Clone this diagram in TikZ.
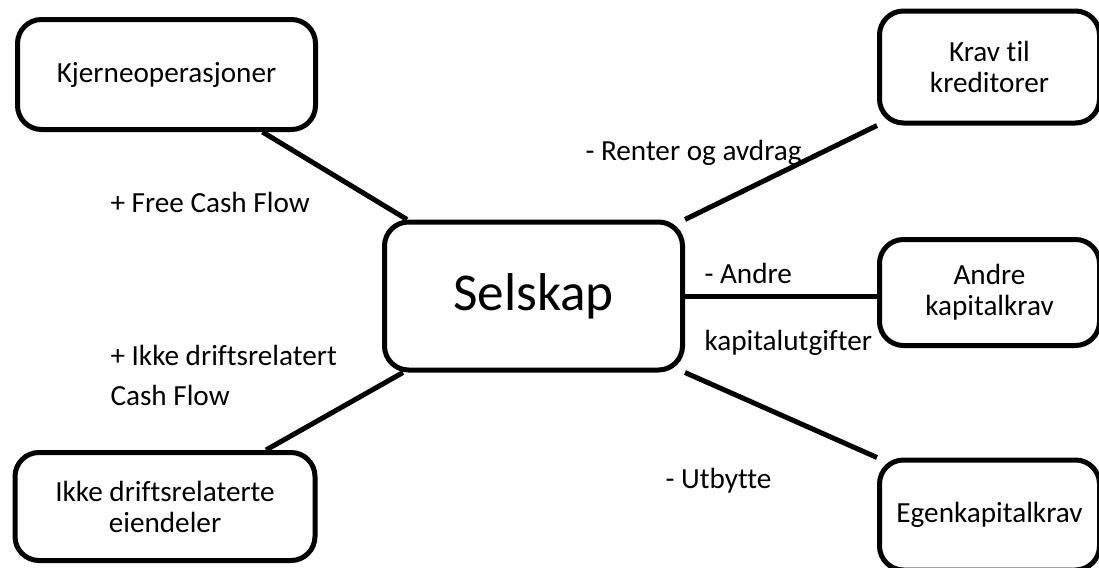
\documentclass[tikz,border=0pt]{standalone}
\usepackage{fontspec}
\setmainfont{Carlito}[Ligatures=NoCommon]
\usepackage{tikz}

\begin{document}
\begin{tikzpicture}[x=0.5pt,y=-0.5pt,line width=2.5pt]
\tikzstyle{block}=[rectangle,draw,rounded corners=12pt,align=center,inner sep=0pt,font=\fontsize{14.6}{15.5}\selectfont]
\tikzstyle{flow}=[anchor=base west,inner sep=0pt,font=\fontsize{14.6}{15.5}\selectfont]
\clip (0,0) rectangle (1099,568);
\node[block,minimum width=149pt,minimum height=55pt] (kjerne) at (166.5,74.5) {Kjerneoperasjoner};
\node[block,minimum width=149pt,minimum height=74pt,font=\fontsize{26.6}{32}\selectfont] (selskap) at (533.5,296) {Selskap};
\node[block,minimum width=110pt,minimum height=56pt] (krav) at (989.5,67) {Krav til\\kreditorer};
\node[block,minimum width=110pt,minimum height=53pt] (andre) at (989.5,292.5) {Andre\\kapitalkrav};
\node[block,minimum width=110pt,minimum height=55pt] (egen) at (989.5,515) {Egenkapitalkrav};
\node[block,minimum width=150pt,minimum height=54pt] (ikke) at (165,506.5) {Ikke driftsrelaterte\\eiendeler};
% connectors
\draw ([xshift=48pt]kjerne.south) -- ([xshift=12.5pt]selskap.north west);
\draw (selskap.north east) -- (krav.south west);
\draw (selskap.east) -- (selskap.east -| andre.west);
\draw (selskap.south east) -- (egen.north west);
\draw ([xshift=10.5pt]selskap.south west) -- ([xshift=50.5pt]ikke.north);
% flow labels
\node[flow] (fcf) at (108,212) {+ Free Cash Flow};
\node[flow] (renter) at (583,160) {- Renter og avdrag};
\node[flow] (andrelbl) at (702,283) {- Andre};
\node[flow] (kaputg) at (702,350) {kapitalutgifter};
\node[flow] (ikkecf) at (108,365) {+ Ikke driftsrelatert};
\node[flow] (cf) at (108,405) {Cash Flow};
\node[flow] (utbytte) at (663,488) {- Utbytte};
\end{tikzpicture}
\end{document}
